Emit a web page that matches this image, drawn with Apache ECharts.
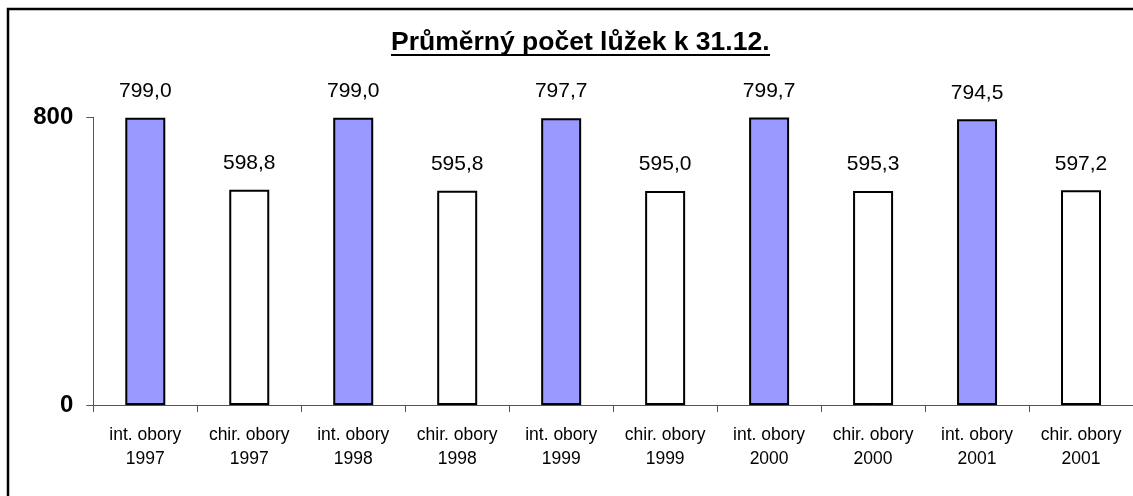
<!DOCTYPE html>
<html>
<head>
<meta charset="utf-8">
<script src="https://cdn.jsdelivr.net/npm/echarts@6/dist/echarts.min.js"></script>
<style>
  html, body { margin: 0; padding: 0; background: #fff; }
  #chart { width: 1133px; height: 496px; }
</style>
</head>
<body>
<div id="chart"></div>
<script>
// 数据
const categories = [
  "int. obory\n1997", "chir. obory\n1997",
  "int. obory\n1998", "chir. obory\n1998",
  "int. obory\n1999", "chir. obory\n1999",
  "int. obory\n2000", "chir. obory\n2000",
  "int. obory\n2001", "chir. obory\n2001"
];
const values = [799.0, 598.8, 799.0, 595.8, 797.7, 595.0, 799.7, 595.3, 794.5, 597.2];
const kinds = ["int", "chir", "int", "chir", "int", "chir", "int", "chir", "int", "chir"];
const kindColors = { int: "#9999FF", chir: "#FFFFFF" };
const yTicks = [0, 800];

const font = "'Liberation Sans', Arial, sans-serif";
const chart = echarts.init(document.getElementById("chart"));

const option = {
  backgroundColor: "#fff",
  animation: false,
  title: {
    text: "Průměrný počet lůžek k 31.12.",
    left: 391,
    top: 29,
    padding: 0,
    textStyle: {
      fontFamily: font,
      fontSize: 26.5,
      fontWeight: "bold",
      color: "#000",
      lineHeight: 26.5,
    },
  },
  graphic: [
    {
      type: "rect",
      shape: { x: 8, y: 9, width: 1300, height: 700 },
      style: { fill: "none", stroke: "#000", lineWidth: 2.5 },
      silent: true,
    },
    {
      type: "line",
      shape: { x1: 391, y1: 55, x2: 770, y2: 55 },
      style: { stroke: "#000", lineWidth: 2 },
      silent: true,
    },
  ],
  grid: {
    left: 93.3,
    top: 117.3,
    width: 1047.4,
    height: 287.7,
  },
  xAxis: {
    type: "category",
    data: categories,
    axisLine: { lineStyle: { color: "#555", width: 1 } },
    axisTick: { show: true, length: 7, lineStyle: { color: "#555" } },
    axisLabel: {
      interval: 0,
      margin: 18,
      fontFamily: font,
      fontSize: 17.5,
      lineHeight: 24,
      color: "#000",
    },
  },
  yAxis: {
    type: "value",
    min: yTicks[0],
    max: yTicks[1],
    interval: yTicks[1] - yTicks[0],
    splitLine: { show: false },
    axisLine: { show: true, lineStyle: { color: "#555", width: 1 } },
    axisTick: { show: true, length: 7, lineStyle: { color: "#555" } },
    axisLabel: {
      margin: 20,
      fontFamily: font,
      fontSize: 24,
      fontWeight: "bold",
      color: "#000",
    },
  },
  series: [
    {
      type: "bar",
      barWidth: 40,
      data: values.map((v, i) => ({
        value: v,
        itemStyle: { color: kindColors[kinds[i]] },
      })),
      itemStyle: { borderColor: "#000", borderWidth: 2 },
      label: {
        show: true,
        position: "top",
        distance: 16,
        fontFamily: font,
        fontSize: 21,
        color: "#000",
        formatter: (p) => p.value.toFixed(1).replace(".", ","),
      },
    },
  ],
};

chart.setOption(option);
</script>
</body>
</html>
